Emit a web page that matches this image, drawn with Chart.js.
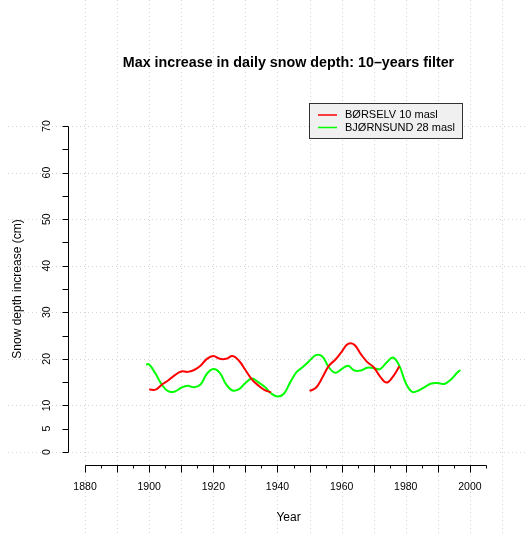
<!DOCTYPE html>
<html>
<head>
<meta charset="utf-8">
<script src="https://cdn.jsdelivr.net/npm/chart.js@4.4.1/dist/chart.umd.min.js"></script>
<style>
  html, body { margin: 0; padding: 0; background: #fff; }
  canvas { display: block; }
</style>
</head>
<body>
<canvas id="snow" width="531" height="533"></canvas>
<script>
/* 10-year filtered max daily snow depth increase */

const borselvYears = [1900, 1902, 1904, 1906, 1908, 1910, 1912, 1914, 1916, 1918, 1920,
    1922, 1924, 1926, 1928, 1930, 1932, 1934, 1936, 1938,
    1944,
    1950, 1952, 1954, 1956, 1958, 1960, 1962, 1964, 1966, 1968, 1970, 1972, 1974, 1976, 1978];
const borselvValues = [13.4, 13.4, 14.5, 15.4, 16.5, 17.3, 17.2, 17.6, 18.5, 20.0, 20.6,
    20.0, 20.0, 20.6, 19.6, 17.6, 15.6, 14.3, 13.3, 12.8,
    null,
    13.1, 13.8, 16.0, 18.5, 19.8, 21.5, 23.2, 23.0, 21.0, 19.3, 18.2, 16.2, 14.9, 16.2, 18.4];

const bjornsundYears = [1899, 1900, 1902, 1904, 1906, 1908, 1910, 1912, 1914, 1916, 1918,
    1920, 1922, 1924, 1926, 1928, 1930, 1932, 1934, 1936, 1938, 1940, 1942, 1944, 1946, 1948,
    1950, 1952, 1954, 1956, 1958, 1960, 1962, 1964, 1966, 1968, 1970, 1972, 1974, 1976, 1978,
    1980, 1982, 1984, 1986, 1988, 1990, 1992, 1994, 1996, 1997];
const bjornsundValues = [18.8, 18.8, 16.8, 14.4, 13.0, 13.0, 13.8, 14.2, 13.9, 14.5, 16.8,
    17.8, 17.0, 14.5, 13.2, 13.5, 14.8, 15.8, 15.0, 14.0, 12.6, 11.9, 12.5, 15.0, 17.2, 18.3,
    19.6, 20.8, 20.5, 18.2, 17.0, 17.8, 18.5, 17.5, 17.5, 18.1, 18.0, 17.8, 19.2, 20.3, 18.5,
    14.8, 12.9, 13.2, 14.0, 14.7, 14.8, 14.6, 15.5, 17.0, 17.6];

const seriesLabels = ['BØRSELV 10 masl', 'BJØRNSUND 28 masl'];
const seriesColors = ['#ff0000', '#00ff00'];

const xTickLabels = [1880, 1900, 1920, 1940, 1960, 1980, 2000];
const xMinorTicks = [1880, 1885, 1890, 1895, 1900, 1905, 1910, 1915, 1920, 1925, 1930, 1935,
    1940, 1945, 1950, 1955, 1960, 1965, 1970, 1975, 1980, 1985, 1990, 1995, 2000, 2005];
const yTickLabels = [0, 5, 10, 20, 30, 40, 50, 60, 70];
const yMinorTicks = [0, 5, 10, 15, 20, 25, 30, 35, 40, 45, 50, 55, 60, 65, 70];
const xGrid = [1880, 1890, 1900, 1910, 1920, 1930, 1940, 1950, 1960, 1970, 1980, 1990, 2000, 2010];
const yGrid = [0, 10, 20, 30, 40, 50, 60, 70];

const FONT = '"Liberation Sans", Arial, Helvetica, sans-serif';

function toPoints(xs, ys) {
    return xs.map((x, i) => ({ x: x, y: ys[i] }));
}

/* ── R-style axes, grid, title and legend ─────────────────── */

const rStyle = {
    id: 'rStyle',
    beforeDatasetsDraw(chart) {
        const { ctx, scales: { x, y } } = chart;
        ctx.save();
        ctx.strokeStyle = '#d3d3d3';
        ctx.lineWidth = 1;
        ctx.setLineDash([1, 3]);
        xGrid.forEach(v => {
            const px = Math.round(x.getPixelForValue(v)) + 0.5;
            ctx.beginPath(); ctx.moveTo(px, 0); ctx.lineTo(px, chart.height); ctx.stroke();
        });
        yGrid.forEach(v => {
            const py = Math.round(y.getPixelForValue(v)) + 0.5;
            ctx.beginPath(); ctx.moveTo(8, py); ctx.lineTo(chart.width - 6, py); ctx.stroke();
        });
        ctx.restore();
    },
    afterDatasetsDraw(chart) {
        const { ctx, chartArea: area, scales: { x, y } } = chart;
        const cx = (area.left + area.right) / 2 + 3;
        ctx.save();
        ctx.strokeStyle = '#000';
        ctx.fillStyle = '#000';
        ctx.lineWidth = 1;
        ctx.setLineDash([]);

        // y axis
        const ax = area.left - 0.5;
        ctx.beginPath();
        ctx.moveTo(ax, Math.round(y.getPixelForValue(0)) + 0.5);
        ctx.lineTo(ax, Math.round(y.getPixelForValue(70)) + 0.5);
        ctx.stroke();
        yMinorTicks.forEach(v => {
            const py = Math.round(y.getPixelForValue(v)) + 0.5;
            ctx.beginPath(); ctx.moveTo(ax, py); ctx.lineTo(ax - 6, py); ctx.stroke();
        });
        ctx.font = '10.5px ' + FONT;
        ctx.textAlign = 'center';
        ctx.textBaseline = 'middle';
        yTickLabels.forEach(v => {
            ctx.save();
            ctx.translate(47, y.getPixelForValue(v));
            ctx.rotate(-Math.PI / 2);
            ctx.fillText(String(v), 0, 0);
            ctx.restore();
        });

        // x axis
        const ay = area.bottom + 0.5;
        ctx.beginPath();
        ctx.moveTo(Math.round(x.getPixelForValue(1880)) + 0.5, ay);
        ctx.lineTo(Math.round(x.getPixelForValue(2005)) + 0.5, ay);
        ctx.stroke();
        xMinorTicks.forEach(v => {
            const px = Math.round(x.getPixelForValue(v)) + 0.5;
            const len = v % 10 === 0 ? 7 : 3;
            ctx.beginPath(); ctx.moveTo(px, ay); ctx.lineTo(px, ay + len); ctx.stroke();
        });
        xTickLabels.forEach(v => {
            ctx.fillText(String(v), x.getPixelForValue(v), 487);
        });

        // axis titles
        ctx.font = '12px ' + FONT;
        ctx.fillText('Year', cx, 518);
        ctx.save();
        ctx.translate(18, (area.top + area.bottom) / 2);
        ctx.rotate(-Math.PI / 2);
        ctx.fillText('Snow depth increase (cm)', 0, 0);
        ctx.restore();

        // main title
        ctx.font = 'bold 14.3px ' + FONT;
        ctx.fillText('Max increase in daily snow depth: 10\u2013years filter', cx, 63);

        // legend
        ctx.fillStyle = '#f0f0f0';
        ctx.fillRect(309.5, 103.5, 153, 35);
        ctx.strokeStyle = '#333';
        ctx.strokeRect(309.5, 103.5, 153, 35);
        ctx.font = '11px ' + FONT;
        ctx.textAlign = 'left';
        chart.data.datasets.forEach((ds, i) => {
            const ly = 115 + i * 12.5;
            ctx.strokeStyle = ds.borderColor;
            ctx.lineWidth = 1.5;
            ctx.beginPath(); ctx.moveTo(318, ly); ctx.lineTo(337, ly); ctx.stroke();
            ctx.fillStyle = '#000';
            ctx.fillText(ds.label, 345, ly);
        });
        ctx.restore();
    }
};

new Chart(document.getElementById('snow').getContext('2d'), {
    type: 'line',
    data: {
        datasets: [
            {
                label: seriesLabels[0],
                data: toPoints(borselvYears, borselvValues),
                borderColor: seriesColors[0],
                borderWidth: 2,
                pointRadius: 0,
                tension: 0.4,
                spanGaps: false,
            },
            {
                label: seriesLabels[1],
                data: toPoints(bjornsundYears, bjornsundValues),
                borderColor: seriesColors[1],
                borderWidth: 2,
                pointRadius: 0,
                tension: 0.4,
            }
        ]
    },
    options: {
        responsive: false,
        animation: false,
        devicePixelRatio: 1,
        layout: { padding: { left: 69, right: 29, top: 113, bottom: 68 } },
        plugins: { legend: { display: false }, title: { display: false }, tooltip: { enabled: false } },
        scales: {
            x: { type: 'linear', min: 1875, max: 2010, display: false },
            y: { type: 'linear', min: -2.8, max: 72.8, display: false },
        }
    },
    plugins: [rStyle]
});
</script>
</body>
</html>
